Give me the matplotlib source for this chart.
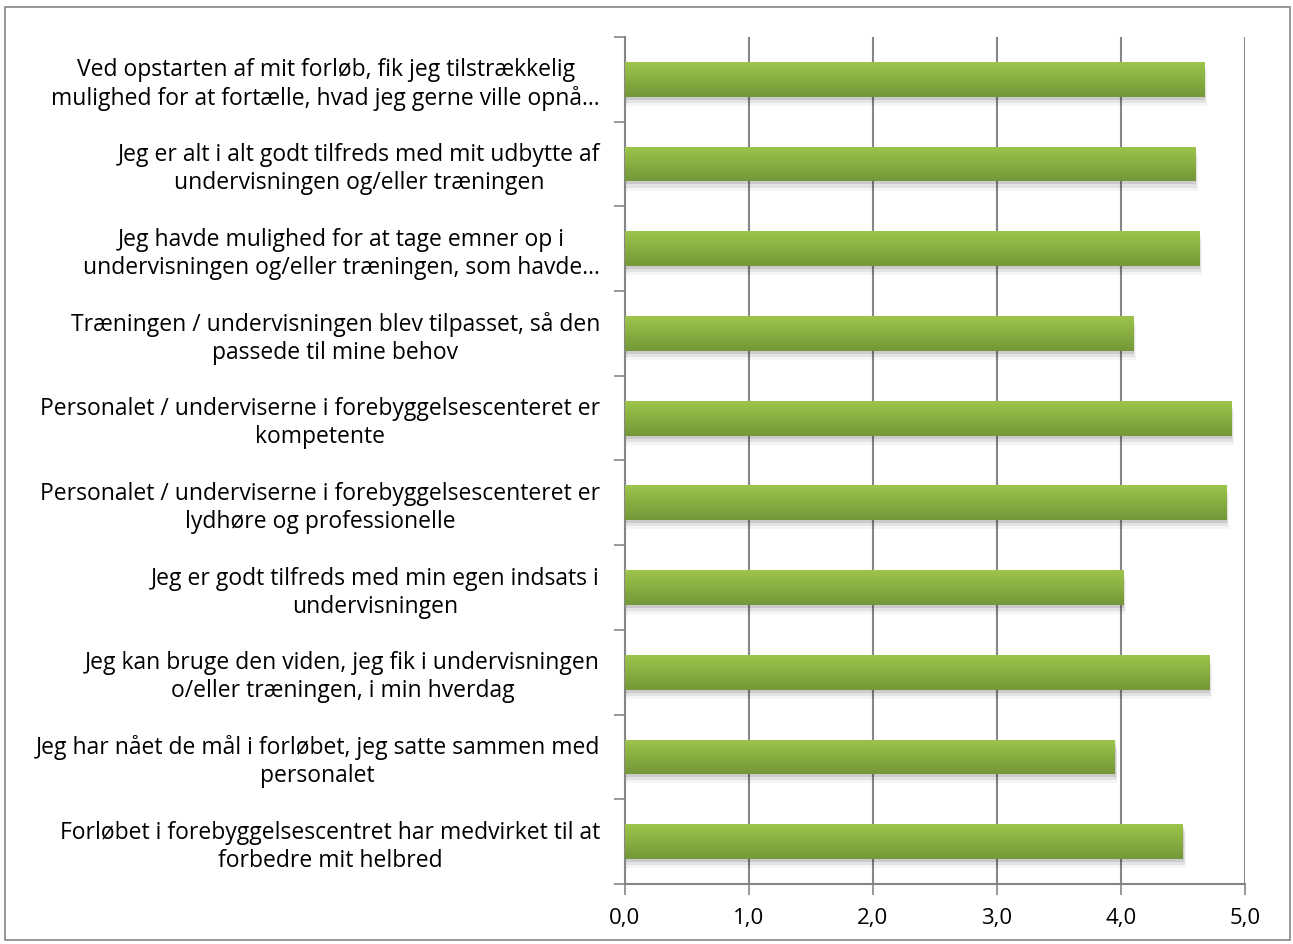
import matplotlib.pyplot as plt
import numpy as np
from matplotlib.patches import Rectangle
from matplotlib.ticker import FixedLocator

categories = [
    "Ved opstarten af mit forløb, fik jeg tilstrækkelig\nmulighed for at fortælle, hvad jeg gerne ville opnå…",
    "Jeg er alt i alt godt tilfreds med mit udbytte af\nundervisningen og/eller træningen",
    "Jeg havde mulighed for at tage emner op i\nundervisningen og/eller træningen, som havde…",
    "Træningen / undervisningen blev tilpasset, så den\npassede til mine behov",
    "Personalet / underviserne i forebyggelsescenteret er\nkompetente",
    "Personalet / underviserne i forebyggelsescenteret er\nlydhøre og professionelle",
    "Jeg er godt tilfreds med min egen indsats i\nundervisningen",
    "Jeg kan bruge den viden, jeg fik i undervisningen\no/eller træningen, i min hverdag",
    "Jeg har nået de mål i forløbet, jeg satte sammen med\npersonalet",
    "Forløbet i forebyggelsescentret har medvirket til at\nforbedre mit helbred",
]
values = [4.67, 4.60, 4.63, 4.10, 4.89, 4.85, 4.02, 4.71, 3.95, 4.50]
xticks = [0, 1, 2, 3, 4, 5]
xtick_labels = ["0,0", "1,0", "2,0", "3,0", "4,0", "5,0"]

plt.rcParams['font.family'] = ['Open Sans', 'DejaVu Sans']

fig = plt.figure(figsize=(12.93, 9.44), dpi=100)
ax = fig.add_axes([625 / 1293, 60 / 944, 620 / 1293, 847 / 944])

n = len(categories)
ypos = np.arange(n)[::-1]
bar_h = 0.41

# soft shadow behind bars
for y, v in zip(ypos, values):
    for k, a in enumerate([0.10, 0.07, 0.04]):
        d = 0.012 * (k + 1)
        ax.add_patch(Rectangle((0, y - bar_h / 2 - d * 3), v + d * 0.6, bar_h,
                               facecolor='#000000', alpha=a, edgecolor='none', zorder=2))

bars = ax.barh(ypos, values, height=bar_h, color='#8db443', zorder=3)

# vertical gradient on each bar
grad = np.linspace(0, 1, 64).reshape(-1, 1)
top = np.array([0x9d, 0xc4, 0x4b]) / 255
bot = np.array([0x74, 0x97, 0x38]) / 255
img = (top + (bot - top) * grad)[:, None, :].repeat(2, axis=1)
for b in bars:
    x0, y0 = b.get_x(), b.get_y()
    w, h = b.get_width(), b.get_height()
    im = ax.imshow(img, extent=[x0, x0 + w, y0, y0 + h], origin='upper',
                   aspect='auto', zorder=4, interpolation='bilinear')
    im.set_clip_path(b)

ax.set_xlim(0, 5)
ax.set_ylim(-0.5, n - 0.5)

ax.set_xticks(xticks)
ax.set_xticklabels(xtick_labels, fontsize=16)
ax.grid(axis='x', color='#868686', linewidth=1.5, zorder=1)
ax.set_axisbelow(True)

ax.set_yticks(ypos)
ax.set_yticklabels(categories, fontsize=16.5, multialignment='center', linespacing=1.22)
ax.tick_params(axis='y', length=0, pad=18)
ax.yaxis.set_minor_locator(FixedLocator(np.arange(-0.5, n, 1.0)))
ax.tick_params(axis='y', which='minor', length=8, width=1.2, color='#868686')
ax.tick_params(axis='x', length=8, width=1.2, color='#868686', pad=9)

for s in ['top', 'right']:
    ax.spines[s].set_visible(False)
for s in ['left', 'bottom']:
    ax.spines[s].set_color('#868686')
    ax.spines[s].set_linewidth(1.5)

fig.patches.append(Rectangle((5 / 1293, 4 / 944), 1285 / 1293, 933 / 944,
                             transform=fig.transFigure, fill=False,
                             edgecolor='#868686', linewidth=1.2))

plt.savefig('out.png', dpi=100)
